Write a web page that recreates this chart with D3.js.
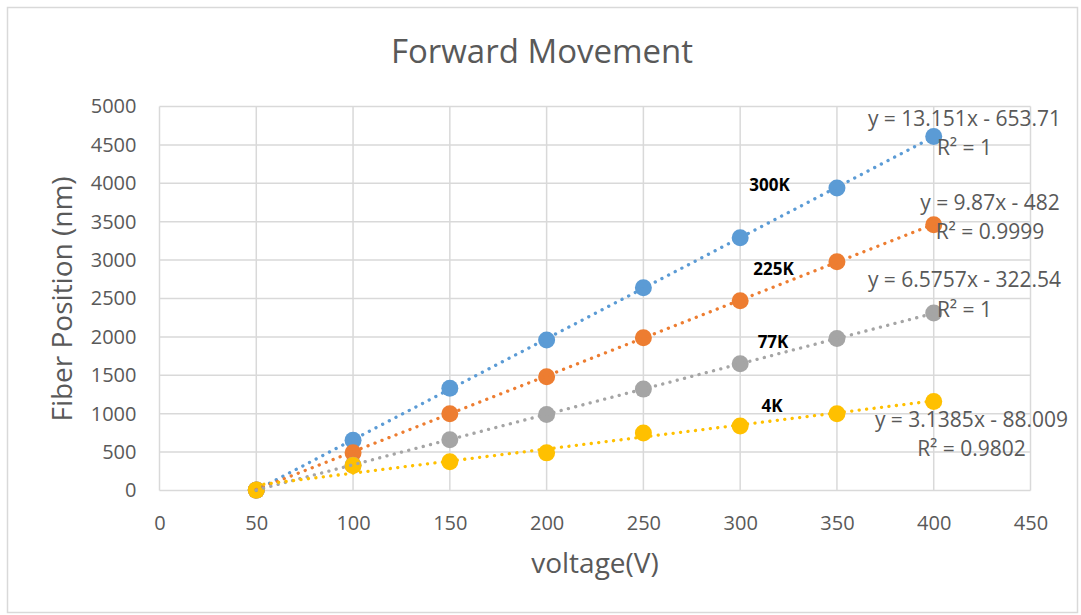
<!DOCTYPE html>
<html>
<head>
<meta charset="utf-8">
<script src="https://cdn.jsdelivr.net/npm/d3@7/dist/d3.min.js"></script>
<style>
  html, body { margin: 0; padding: 0; background: #fff; }
  svg { display: block; font-family: "Open Sans", "Liberation Sans", sans-serif; }
</style>
</head>
<body>
<svg id="chart" width="1081" height="615"></svg>
<script>
// Voltage steps (V)
const voltages = [50, 100, 150, 200, 250, 300, 350, 400];

// Fiber position (nm) for each temperature
const pos300K = [5, 655, 1330, 1960, 2640, 3290, 3940, 4610];
const pos225K = [5, 490, 1000, 1480, 1990, 2470, 2980, 3460];
const pos77K  = [5, 330, 660, 990, 1320, 1650, 1980, 2310];
const pos4K   = [5, 325, 375, 490, 750, 840, 1000, 1160];

// Linear fit coefficients (slope, intercept) and R²
const fitSlope     = [13.151, 9.87, 6.5757, 3.1385];
const fitIntercept = [-653.71, -482, -322.54, -88.009];
const fitEquation  = ["y = 13.151x - 653.71", "y = 9.87x - 482", "y = 6.5757x - 322.54", "y = 3.1385x - 88.009"];
const fitR2        = ["R² = 1", "R² = 0.9999", "R² = 1", "R² = 0.9802"];

const seriesNames  = ["300K", "225K", "77K", "4K"];
const seriesColors = ["#5B9BD5", "#ED7D31", "#A5A5A5", "#FFC000"];
const seriesValues = [pos300K, pos225K, pos77K, pos4K];

const xTicks = [0, 50, 100, 150, 200, 250, 300, 350, 400, 450];
const yTicks = [0, 500, 1000, 1500, 2000, 2500, 3000, 3500, 4000, 4500, 5000];

const svg = d3.select("#chart");
const W = 1081, H = 615;
const plot = { left: 159.5, right: 1030.5, top: 106.5, bottom: 490.5 };

const x = d3.scaleLinear().domain([0, 450]).range([plot.left, plot.right]);
const y = d3.scaleLinear().domain([0, 5000]).range([plot.bottom, plot.top]);

const textColor = "#595959";
const gridColor = "#D9D9D9";

// Chart area frame
svg.append("rect")
  .attr("x", 7.5).attr("y", 7.5).attr("width", W - 11).attr("height", H - 10)
  .attr("fill", "#fff").attr("stroke", "#D9D9D9").attr("stroke-width", 1.5);

// Title
svg.append("text")
  .attr("x", 542).attr("y", 63).attr("text-anchor", "middle")
  .attr("font-size", 33).attr("fill", textColor)
  .text("Forward Movement");

// Gridlines
const grid = svg.append("g");
grid.selectAll("line.h").data(yTicks).join("line")
  .attr("x1", plot.left).attr("x2", plot.right)
  .attr("y1", d => y(d)).attr("y2", d => y(d))
  .attr("stroke", gridColor).attr("stroke-width", 1.5);
grid.selectAll("line.v").data(xTicks).join("line")
  .attr("y1", plot.top).attr("y2", plot.bottom)
  .attr("x1", d => x(d)).attr("x2", d => x(d))
  .attr("stroke", gridColor).attr("stroke-width", 1.5);

// Axes (labels only, lines come from the grid)
const xAxis = svg.append("g")
  .attr("transform", `translate(0,${plot.bottom})`)
  .call(d3.axisBottom(x).tickValues(xTicks).tickFormat(d3.format("d")).tickSize(0).tickPadding(25));
const yAxis = svg.append("g")
  .attr("transform", `translate(${plot.left},0)`)
  .call(d3.axisLeft(y).tickValues(yTicks).tickFormat(d3.format("d")).tickSize(0).tickPadding(23));
[xAxis, yAxis].forEach(a => {
  a.select(".domain").remove();
  a.selectAll("text").attr("font-size", 20).attr("fill", textColor)
    .attr("font-family", "'Open Sans', sans-serif");
});

// Axis titles
svg.append("text")
  .attr("x", 595).attr("y", 573).attr("text-anchor", "middle")
  .attr("font-size", 28).attr("fill", textColor)
  .text("voltage(V)");
svg.append("text")
  .attr("transform", "translate(72,299) rotate(-90)")
  .attr("text-anchor", "middle")
  .attr("font-size", 28).attr("fill", textColor)
  .text("Fiber Position (nm)");

// Markers
seriesValues.forEach((vals, i) => {
  svg.append("g").selectAll("circle").data(vals).join("circle")
    .attr("cx", (d, j) => x(voltages[j]))
    .attr("cy", d => y(d))
    .attr("r", 8.5)
    .attr("fill", seriesColors[i]);
});

// Dotted linear trendlines
const x0 = d3.min(voltages), x1 = d3.max(voltages);
seriesValues.forEach((vals, i) => {
  svg.append("line")
    .attr("x1", x(x0)).attr("y1", y(fitSlope[i] * x0 + fitIntercept[i]))
    .attr("x2", x(x1)).attr("y2", y(fitSlope[i] * x1 + fitIntercept[i]))
    .attr("stroke", seriesColors[i]).attr("stroke-width", 3.3)
    .attr("stroke-linecap", "round")
    .attr("stroke-dasharray", "0.1 7.4");
});

// Trendline equation labels
const eqPos = [
  { ex: 964.5, ey: 126, ry: 155 },
  { ex: 990, ey: 210, ry: 239 },
  { ex: 964.5, ey: 287, ry: 317 },
  { ex: 971.5, ey: 427, ry: 456 }
];
eqPos.forEach((p, i) => {
  svg.append("text").attr("x", p.ex).attr("y", p.ey).attr("text-anchor", "middle")
    .attr("font-size", 21).attr("fill", textColor).text(fitEquation[i]);
  svg.append("text").attr("x", p.ex).attr("y", p.ry).attr("text-anchor", "middle")
    .attr("font-size", 21).attr("fill", textColor).text(fitR2[i]);
});

// Series name labels
const namePos = [[769.5, 191], [773.5, 275], [773, 348], [772, 412]];
namePos.forEach((p, i) => {
  svg.append("text").attr("x", p[0]).attr("y", p[1]).attr("text-anchor", "middle")
    .attr("font-size", 17).attr("font-weight", "bold").attr("fill", "#000")
    .text(seriesNames[i]);
});
</script>
</body>
</html>
